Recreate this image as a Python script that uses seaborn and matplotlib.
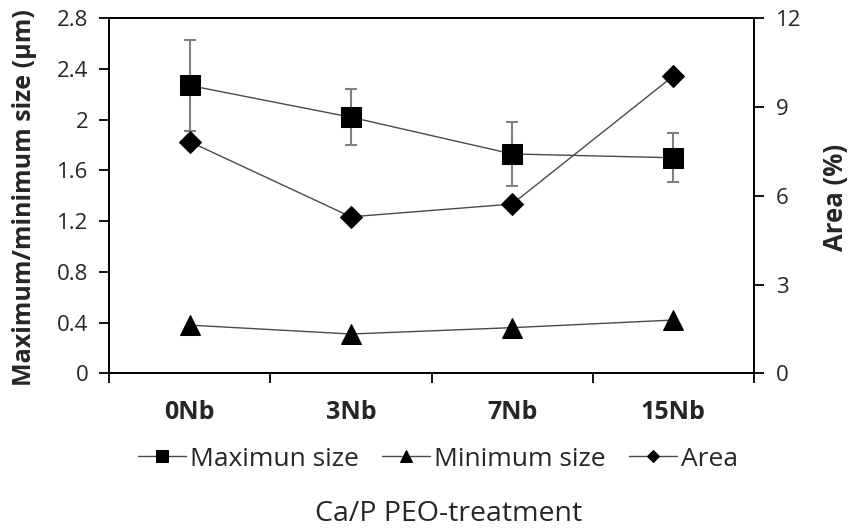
import matplotlib
matplotlib.use("Agg")
import matplotlib.pyplot as plt
import seaborn as sns
import pandas as pd
import numpy as np

categories = ["0Nb", "3Nb", "7Nb", "15Nb"]
max_size = [2.27, 2.02, 1.73, 1.70]
max_size_err = [0.36, 0.22, 0.25, 0.195]
min_size = [0.38, 0.31, 0.36, 0.42]
area = [7.83, 5.29, 5.72, 10.05]
left_ticks = [0, 0.4, 0.8, 1.2, 1.6, 2, 2.4, 2.8]
right_ticks = [0, 3, 6, 9, 12]

sns.set_theme(style="white")
plt.rcParams["font.family"] = ["Open Sans", "DejaVu Sans"]

df = pd.DataFrame({"cat": categories, "max": max_size, "err": max_size_err,
                   "min": min_size, "area": area})
df["pos"] = np.arange(len(categories))

fig = plt.figure(figsize=(8.49, 5.32), dpi=100)
ax = fig.add_axes([109/849, 1-373.3/532, 645/849, 355/532])
ax2 = ax.twinx()

line_c = "#4a4a4a"
ax.errorbar(df["pos"], df["max"], yerr=df["err"], fmt="none", ecolor="#808080",
            elinewidth=1.5, capsize=4, capthick=1.5, zorder=2)
sns.lineplot(data=df, x="pos", y="max", ax=ax, color=line_c, lw=1, marker="s",
             markersize=15, markerfacecolor="black", markeredgecolor="black",
             label="Maximun size", legend=False, zorder=3)
sns.lineplot(data=df, x="pos", y="min", ax=ax, color=line_c, lw=1, marker="^",
             markersize=15, markerfacecolor="black", markeredgecolor="black",
             label="Minimum size", legend=False, zorder=3)
sns.lineplot(data=df, x="pos", y="area", ax=ax2, color=line_c, lw=1, marker="D",
             markersize=11, markerfacecolor="black", markeredgecolor="black",
             label="Area", legend=False, zorder=3)

ax.set_xlim(-0.5, 3.5)
ax.set_ylim(0, 2.8)
ax2.set_ylim(0, 12)
ax.set_yticks(left_ticks)
ax.set_yticklabels([f"{t:g}" for t in left_ticks])
ax2.set_yticks(right_ticks)
ax2.set_yticklabels([str(t) for t in right_ticks])

ax.set_xticks([-0.5, 0.5, 1.5, 2.5, 3.5])
ax.set_xticklabels([])
ax.set_xticks(df["pos"], minor=True)
ax.set_xticklabels(categories, minor=True, fontsize=18, fontweight="bold")
ax.tick_params(axis="x", which="minor", length=0, pad=19)
ax.tick_params(axis="x", which="major", direction="out", length=7, width=1.3,
               color="black", bottom=True)
ax.tick_params(axis="y", direction="out", length=7, width=1.3, color="black",
               labelsize=16, pad=8, left=True)
ax2.tick_params(axis="y", direction="out", length=7, width=1.3, color="black",
                labelsize=16, pad=9, right=True)
ax.set_xlabel("")
ax.set_ylabel("")
ax2.set_ylabel("")

for a in (ax, ax2):
    for s in a.spines.values():
        s.set_color("black")
        s.set_linewidth(1.4)
        s.set_visible(True)

fig.text(25/849, 1-198/532, "Maximum/minimum size (μm)", rotation=90,
         ha="center", va="center", fontsize=18, fontweight="bold")
fig.text(835/849, 1-197/532, "Area (%)", rotation=90,
         ha="center", va="center", fontsize=18.5, fontweight="bold")
fig.text(449/849, 1-514/532, "Ca/P PEO-treatment", ha="center", va="center",
         fontsize=20.5)

h1, l1 = ax.get_legend_handles_labels()
h2, l2 = ax2.get_legend_handles_labels()
fig.legend(h1 + h2, l1 + l2, loc="center", bbox_to_anchor=(438/849, 1-459/532),
           ncol=3, frameon=False, fontsize=19, markerscale=0.6,
           handlelength=1.8, handletextpad=0.15, columnspacing=0.9)

fig.savefig("out.png", dpi=100)
